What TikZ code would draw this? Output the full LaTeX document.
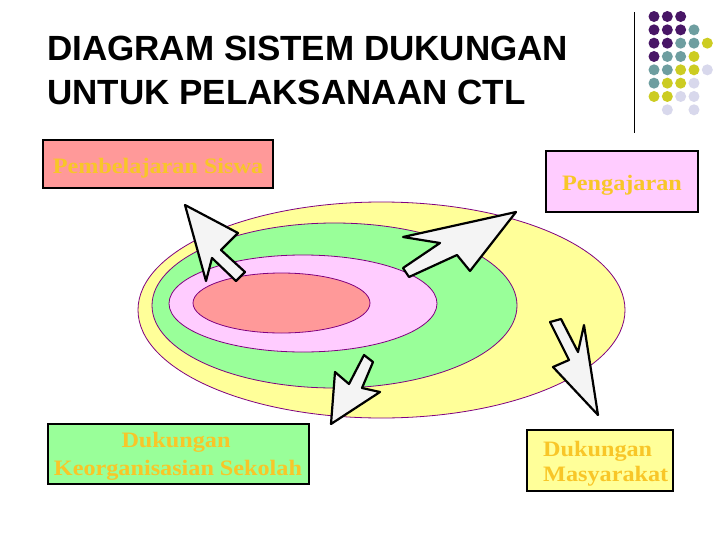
\documentclass[tikz,border=0pt]{standalone}
\usepackage{fontspec}
\newfontfamily\titlefont{Liberation Sans}
\newfontfamily\boxfont{Liberation Serif}[FakeStretch=1.1]
\definecolor{dpurple}{RGB}{72,22,102}
\definecolor{dteal}{RGB}{110,158,160}
\definecolor{dyellow}{RGB}{204,204,34}
\definecolor{dlav}{RGB}{216,216,236}
\definecolor{eline}{RGB}{128,0,128}
\definecolor{fyellow}{RGB}{255,255,153}
\definecolor{fgreen}{RGB}{153,255,153}
\definecolor{fpink}{RGB}{255,204,255}
\definecolor{fsalmon}{RGB}{255,153,153}
\definecolor{txtgold}{RGB}{248,198,40}
\definecolor{arrowfill}{RGB}{244,244,244}
\begin{document}
\begin{tikzpicture}[x=1pt,y=-1pt,
  ell/.style={draw=eline, line width=0.8pt},
  boxstyle/.style={draw=black, line width=1.5pt, rectangle, inner sep=0pt},
  boxtext/.style={text=txtgold, font=\boxfont\bfseries\fontsize{22}{28}\selectfont, inner sep=0pt},
  cursor/.style={fill=arrowfill, draw=black, line width=2.2pt, line join=round},
  dotP/.style={fill=dpurple, draw=none},
  dotT/.style={fill=dteal, draw=none},
  dotY/.style={fill=dyellow, draw=none},
  dotL/.style={fill=dlav, draw=none}]
\useasboundingbox (0,0) rectangle (728,546);
\fill[white] (0,0) rectangle (728,546);

% title
\node[anchor=base west, inner sep=0pt, font=\titlefont\bfseries\fontsize{35}{44}\selectfont] (t1) at (47,60) {DIAGRAM SISTEM DUKUNGAN};
\node[anchor=base west, inner sep=0pt, font=\titlefont\bfseries\fontsize{35}{44}\selectfont] (t2) at (47,104) {UNTUK PELAKSANAAN CTL};

% vertical rule
\draw[line width=1pt] (634,12) -- (634,133);

% dots
\foreach \c/\r/\s in {0/0/P,1/0/P,2/0/P,
  0/1/P,1/1/P,2/1/P,3/1/T,
  0/2/P,1/2/P,2/2/T,3/2/T,4/2/Y,
  0/3/P,1/3/T,2/3/T,3/3/Y,
  0/4/T,1/4/T,2/4/Y,3/4/Y,4/4/L,
  0/5/T,1/5/Y,2/5/Y,3/5/L,
  0/6/Y,1/6/Y,2/6/L,3/6/L,
  1/7/L,3/7/L}
  \fill[dot\s] ({654+13.33*\c},{16.5+13.33*\r}) circle (5.5);

% ellipses
\draw[ell, fill=fyellow] (381.5,310) ellipse [x radius=243.5, y radius=108];
\draw[ell, fill=fgreen] (334.5,305.5) ellipse [x radius=182.5, y radius=82.5];
\draw[ell, fill=fpink] (303,303.5) ellipse [x radius=134, y radius=48.5];
\draw[ell, fill=fsalmon] (281.5,303) ellipse [x radius=88.5, y radius=30];

% cursor arrows
\draw[cursor] (185,205) -- (206,281) -- (212,258) -- (236,281) -- (245,272) -- (221,250) -- (238,233) -- cycle;
\draw[cursor] (516,212) -- (403,237) -- (440,243) -- (403,268) -- (409,277) -- (457,255) -- (470,271) -- cycle;
\draw[cursor] (331,424) -- (335,372) -- (349,384) -- (364,355) -- (373,362) -- (362,388) -- (380,392) -- cycle;
\draw[cursor] (550,322) -- (561,319) -- (578,352) -- (584,325) -- (598,415) -- (553,367) -- (569,360) -- cycle;

% boxes
\node[boxstyle, fill=fsalmon, minimum width=230, minimum height=48] (ps) at (158,164) {};
\node[boxtext, anchor=base] (pst) at (158,173) {Pembelajaran Siswa};

\node[boxstyle, fill=fpink, minimum width=152, minimum height=61] (pg) at (622,181.5) {};
\node[boxtext, anchor=base] (pgt) at (622,190) {Pengajaran};

\node[boxstyle, fill=fgreen, minimum width=261, minimum height=60] (dk) at (178.5,454) {};
\node[boxtext, anchor=base] (dkt1) at (176,447) {Dukungan};
\node[boxtext, anchor=base] (dkt2) at (178,475) {Keorganisasian Sekolah};

\node[boxstyle, fill=fyellow, minimum width=146, minimum height=61] (dm) at (600,460.5) {};
\node[boxtext, anchor=base west] (dmt1) at (543,456) {Dukungan};
\node[boxtext, anchor=base west] (dmt2) at (543,481) {Masyarakat};
\end{tikzpicture}
\end{document}
